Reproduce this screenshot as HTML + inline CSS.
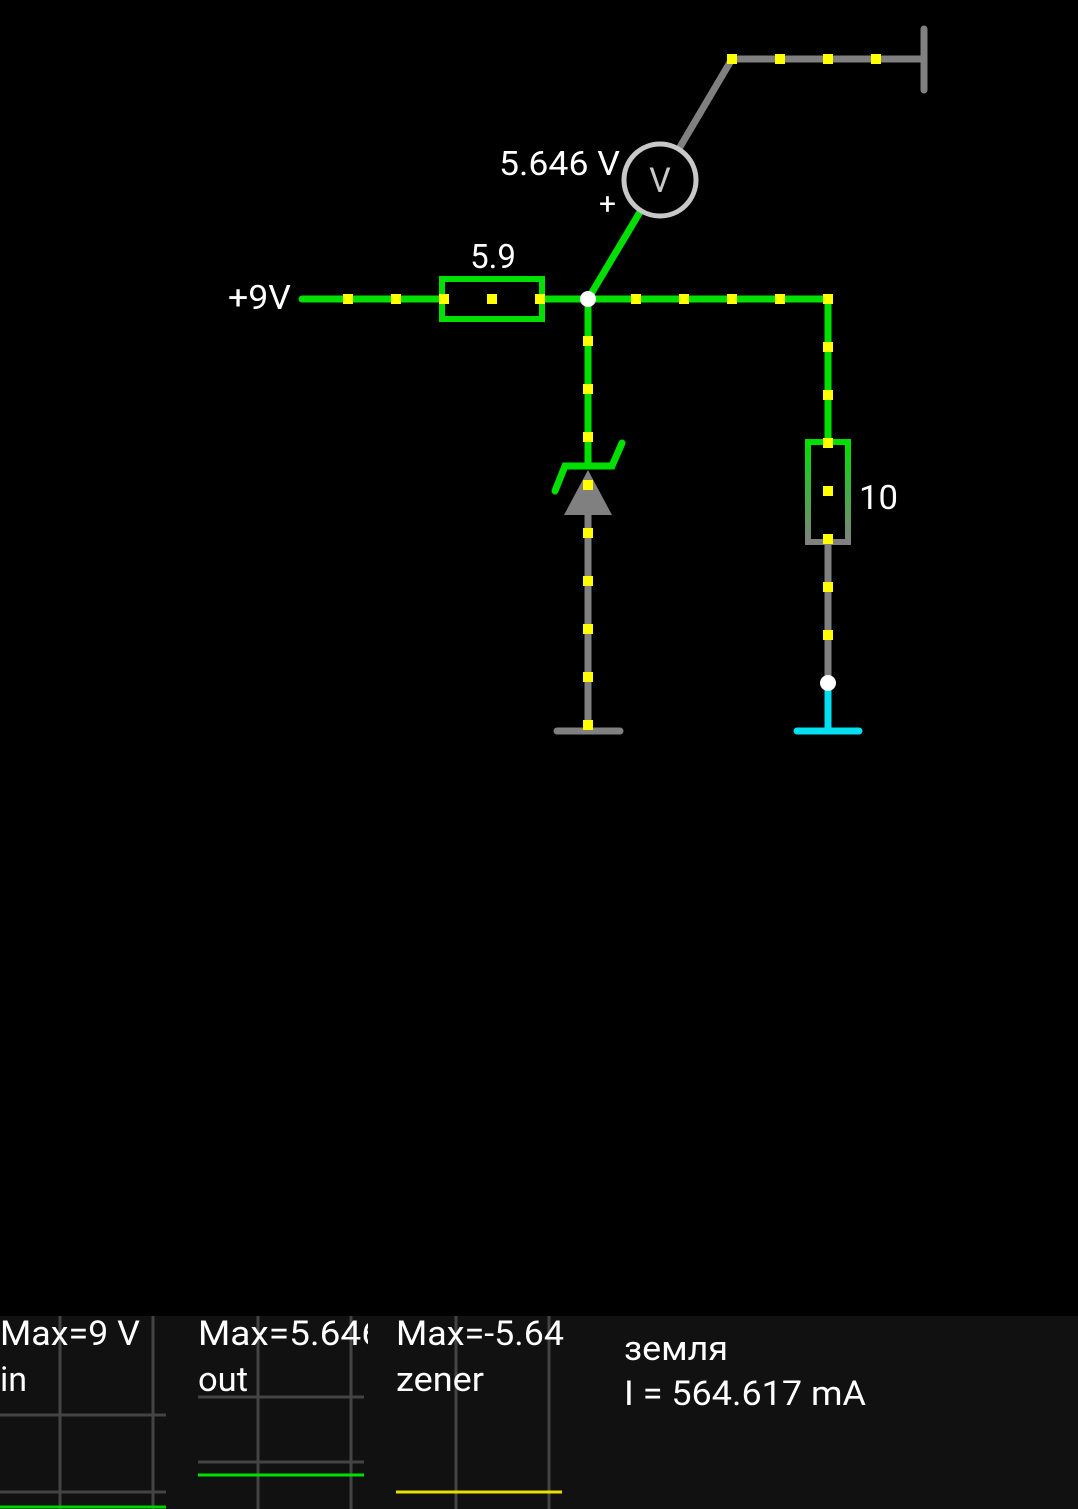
<!DOCTYPE html>
<html><head><style>
html,body{margin:0;padding:0;background:#000;width:1078px;height:1509px;overflow:hidden}
svg{display:block}
text{font-family:"Roboto","Liberation Sans","DejaVu Sans",sans-serif;fill:#fff}
</style></head><body>
<svg width="1078" height="1509" viewBox="0 0 1078 1509">
<defs>
<linearGradient id="g" x1="0" y1="0" x2="0" y2="1"><stop offset="0" stop-color="#00e000"/><stop offset="1" stop-color="#808080"/></linearGradient>
<clipPath id="c2"><rect x="190" y="1316" width="178" height="60"/></clipPath>
</defs>
<rect width="1078" height="1509" fill="#000"/>
<polyline points="680,147 732,59 924,59" fill="none" stroke="#808080" stroke-width="7" stroke-linecap="round"/>
<line x1="924" y1="29" x2="924" y2="90" stroke="#808080" stroke-width="7" stroke-linecap="round"/>
<line x1="588" y1="299" x2="640" y2="212" stroke="#00e000" stroke-width="7" stroke-linecap="round"/>
<circle cx="660" cy="180" r="36" fill="none" stroke="#c8c8c8" stroke-width="5"/>
<text x="660" y="192" font-size="34" text-anchor="middle" style="fill:#c8c8c8">V</text>
<text x="499" y="175" font-size="33" textLength="121" lengthAdjust="spacingAndGlyphs">5.646 V</text>
<text x="599" y="214" font-size="30">+</text>
<line x1="302" y1="299" x2="442" y2="299" stroke="#00e000" stroke-width="7" stroke-linecap="round"/>
<line x1="542" y1="299" x2="828" y2="299" stroke="#00e000" stroke-width="7"/>
<rect x="442" y="279" width="100" height="40" fill="none" stroke="#00e000" stroke-width="6"/>
<text x="493" y="268" font-size="33" text-anchor="middle">5.9</text>
<text x="228" y="309" font-size="33" textLength="63" lengthAdjust="spacingAndGlyphs">+9V</text>
<line x1="588" y1="299" x2="588" y2="465" stroke="#00e000" stroke-width="7"/>
<polyline points="555,491 565,466 612,466 622,443" fill="none" stroke="#00e000" stroke-width="7" stroke-linecap="round"/>
<polygon points="564,515 612,515 588,470" fill="#808080"/>
<line x1="588" y1="515" x2="588" y2="731" stroke="#808080" stroke-width="7"/>
<line x1="557" y1="731" x2="620" y2="731" stroke="#808080" stroke-width="7" stroke-linecap="round"/>
<line x1="828" y1="299" x2="828" y2="442" stroke="#00e000" stroke-width="7"/>
<rect x="808" y="442" width="40" height="100" fill="none" stroke="url(#g)" stroke-width="6"/>
<line x1="828" y1="542" x2="828" y2="683" stroke="#808080" stroke-width="7"/>
<text x="859" y="509" font-size="33" textLength="39" lengthAdjust="spacingAndGlyphs">10</text>
<line x1="828" y1="683" x2="828" y2="731" stroke="#00e0f0" stroke-width="7"/>
<line x1="797" y1="731" x2="859" y2="731" stroke="#00e0f0" stroke-width="7" stroke-linecap="round"/>
<circle cx="828" cy="683" r="8" fill="#fff"/>
<circle cx="588" cy="299" r="8" fill="#fff"/>
<g fill="#ffff00">
<rect x="727" y="54" width="10" height="10"/><rect x="775" y="54" width="10" height="10"/><rect x="823" y="54" width="10" height="10"/><rect x="871" y="54" width="10" height="10"/>
<rect x="343" y="294" width="10" height="10"/><rect x="391" y="294" width="10" height="10"/><rect x="439" y="294" width="10" height="10"/><rect x="487" y="294" width="10" height="10"/><rect x="535" y="294" width="10" height="10"/>
<rect x="631" y="294" width="10" height="10"/><rect x="679" y="294" width="10" height="10"/><rect x="727" y="294" width="10" height="10"/><rect x="775" y="294" width="10" height="10"/><rect x="823" y="294" width="10" height="10"/>
<rect x="823" y="342" width="10" height="10"/><rect x="823" y="390" width="10" height="10"/><rect x="823" y="438" width="10" height="10"/><rect x="823" y="486" width="10" height="10"/><rect x="823" y="534" width="10" height="10"/><rect x="823" y="582" width="10" height="10"/><rect x="823" y="630" width="10" height="10"/>
<rect x="583" y="336" width="10" height="10"/><rect x="583" y="384" width="10" height="10"/><rect x="583" y="432" width="10" height="10"/><rect x="583" y="480" width="10" height="10"/><rect x="583" y="528" width="10" height="10"/><rect x="583" y="576" width="10" height="10"/><rect x="583" y="624" width="10" height="10"/><rect x="583" y="672" width="10" height="10"/><rect x="583" y="720" width="10" height="10"/>
</g>
<rect x="0" y="1316" width="1078" height="193" fill="#111"/>
<g stroke="#444" stroke-width="3">
<line x1="60" y1="1316" x2="60" y2="1509"/><line x1="153" y1="1316" x2="153" y2="1509"/>
<line x1="0" y1="1415" x2="166" y2="1415"/><line x1="0" y1="1492" x2="166" y2="1492"/>
<line x1="258" y1="1316" x2="258" y2="1509"/><line x1="351" y1="1316" x2="351" y2="1509"/>
<line x1="198" y1="1397" x2="364" y2="1397"/><line x1="198" y1="1462" x2="364" y2="1462"/>
<line x1="456" y1="1316" x2="456" y2="1509"/><line x1="549" y1="1316" x2="549" y2="1509"/>
</g>
<line x1="0" y1="1507" x2="166" y2="1507" stroke="#00d000" stroke-width="3"/>
<line x1="198" y1="1475" x2="364" y2="1475" stroke="#00e000" stroke-width="3"/>
<line x1="396" y1="1492" x2="562" y2="1492" stroke="#e8e000" stroke-width="3"/>
<text x="0" y="1345" font-size="34" textLength="140" lengthAdjust="spacingAndGlyphs">Max=9 V</text>
<text x="0" y="1391" font-size="34">in</text>
<g clip-path="url(#c2)"><text x="198" y="1345" font-size="34" textLength="184" lengthAdjust="spacingAndGlyphs">Max=5.646</text></g>
<text x="198" y="1391" font-size="34" textLength="50" lengthAdjust="spacingAndGlyphs">out</text>
<text x="396" y="1345" font-size="34" textLength="168" lengthAdjust="spacingAndGlyphs">Max=-5.64</text>
<text x="396" y="1391" font-size="34" textLength="88" lengthAdjust="spacingAndGlyphs">zener</text>
<text x="624" y="1360" font-size="34" textLength="104" lengthAdjust="spacingAndGlyphs">земля</text>
<text x="624" y="1405" font-size="34" textLength="242" lengthAdjust="spacingAndGlyphs">I = 564.617 mA</text>
</svg>
</body></html>
